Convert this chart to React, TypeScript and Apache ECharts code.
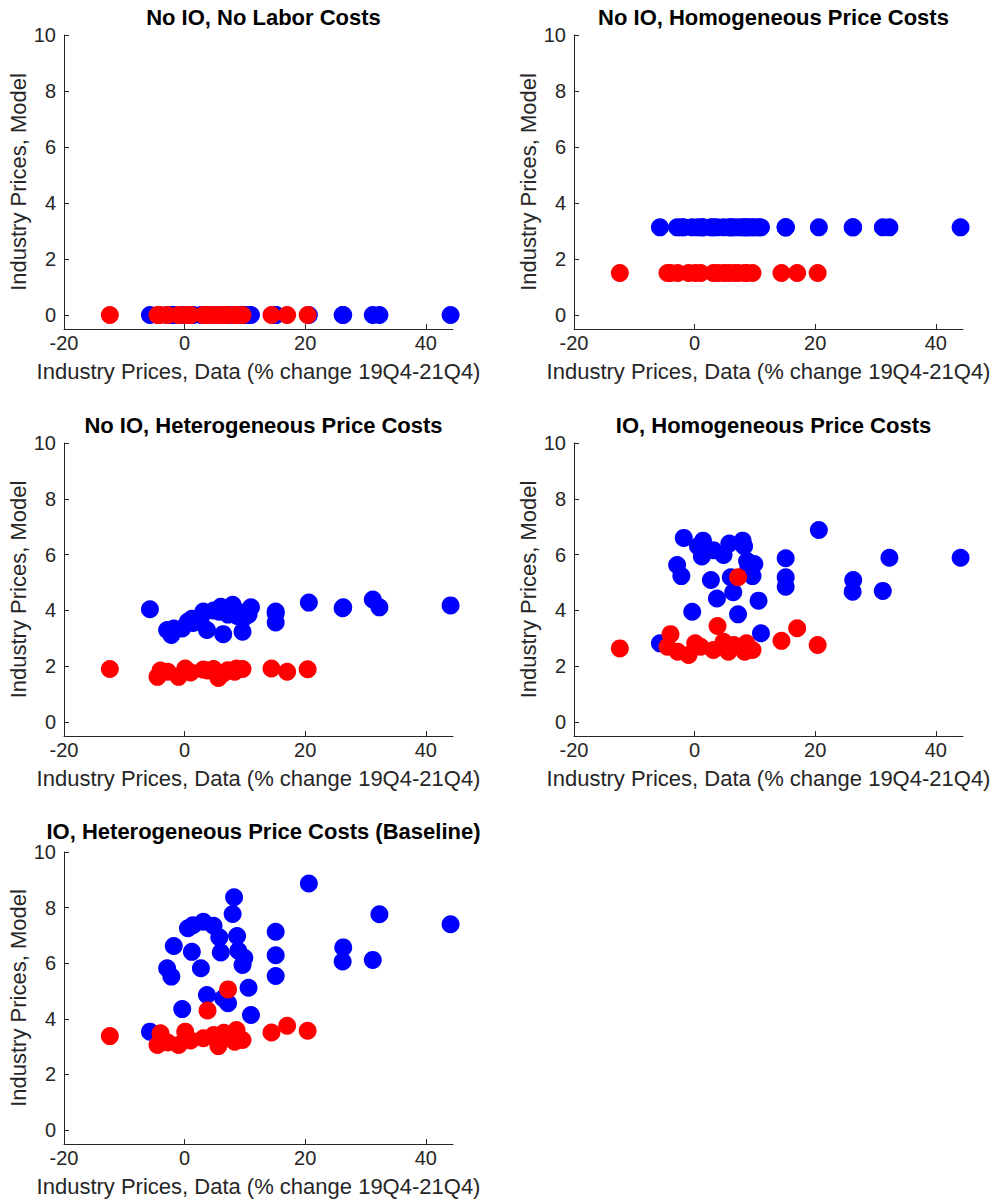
import React, { useEffect, useRef } from "react";
import * as echarts from "echarts";

// Industry price changes, data (% change 19Q4-21Q4)
const blueX = [
  -5.75, -2.9, -2.2, -1.8, -0.4, 0.55, 1.2, 1.4, 2.7, 3.1, 3.7, 4.8, 5.75, 6.0, 6.4, 7.2, 7.96,
  8.2, 8.7, 8.9, 9.6, 9.9, 10.6, 11.0, 15.1, 15.1, 15.1, 20.6, 26.3, 26.2, 31.2, 32.3, 44.1,
];
const redX = [
  -12.4, -4.5, -4.0, -2.8, -1.0, 0.1, 1.0, 3.1, 3.8, 4.8, 5.6, 6.5, 7.2, 8.3, 8.6, 9.6, 14.4, 17.0,
  20.4,
];

// Model industry prices, one array per specification
const blueNoIoNoLabor = [
  0, 0, 0, 0, 0, 0, 0, 0, 0, 0, 0, 0, 0, 0, 0, 0, 0, 0, 0, 0, 0, 0, 0, 0, 0, 0, 0, 0, 0, 0, 0, 0, 0,
];
const redNoIoNoLabor = [0, 0, 0, 0, 0, 0, 0, 0, 0, 0, 0, 0, 0, 0, 0, 0, 0, 0, 0];

const blueNoIoHomog = [
  3.13, 3.13, 3.13, 3.13, 3.13, 3.13, 3.13, 3.13, 3.13, 3.13, 3.13, 3.13, 3.13, 3.13, 3.13, 3.13,
  3.13, 3.13, 3.13, 3.13, 3.13, 3.13, 3.13, 3.13, 3.13, 3.13, 3.13, 3.13, 3.13, 3.13, 3.13, 3.13,
  3.13,
];
const redNoIoHomog = [
  1.5, 1.5, 1.5, 1.5, 1.5, 1.5, 1.5, 1.5, 1.5, 1.5, 1.5, 1.5, 1.5, 1.5, 1.5, 1.5, 1.5, 1.5, 1.5,
];

const blueNoIoHetero = [
  4.04, 3.3, 3.12, 3.35, 3.35, 3.6, 3.7, 3.55, 3.75, 3.96, 3.3, 4.0, 3.95, 4.13, 3.15, 3.85, 4.2,
  3.9, 3.8, 3.95, 3.24, 3.75, 3.85, 4.11, 3.96, 3.57, 3.9, 4.28, 4.11, 4.08, 4.39, 4.11, 4.18,
];
const redNoIoHetero = [
  1.9, 1.62, 1.85, 1.8, 1.62, 1.92, 1.78, 1.88, 1.85, 1.9, 1.58, 1.75, 1.86, 1.8, 1.92, 1.9, 1.92,
  1.8, 1.89,
];

const blueIoHomog = [
  2.82, 5.63, 5.23, 6.6, 3.95, 6.3, 5.93, 6.5, 5.09, 6.16, 4.43, 5.99, 6.4, 5.19, 4.65, 3.86, 6.5,
  6.3, 5.77, 5.5, 5.23, 5.66, 4.35, 3.18, 5.87, 5.19, 4.85, 6.88, 5.09, 4.67, 4.7, 5.89, 5.89,
];
const redIoHomog = [
  2.64, 2.7, 3.15, 2.52, 2.4, 2.82, 2.7, 2.58, 3.44, 2.88, 2.52, 2.76, 5.19, 2.52, 2.82, 2.58, 2.91,
  3.36, 2.76,
];

const blueIoHetero = [
  3.54, 5.82, 5.52, 6.62, 4.35, 7.26, 6.41, 7.37, 5.82, 7.49, 4.86, 7.35, 6.93, 6.39, 4.74, 4.56,
  7.77, 8.37, 6.98, 6.45, 5.94, 6.2, 5.12, 4.14, 7.13, 6.29, 5.54, 8.87, 6.57, 6.06, 6.12, 7.76,
  7.4,
];
const redIoHetero = [
  3.38, 3.06, 3.48, 3.15, 3.06, 3.54, 3.22, 3.3, 4.3, 3.42, 3.02, 3.5, 5.06, 3.18, 3.6, 3.24, 3.51,
  3.75, 3.57,
];

const panelTitles = [
  "No IO, No Labor Costs",
  "No IO, Homogeneous Price Costs",
  "No IO, Heterogeneous Price Costs",
  "IO, Homogeneous Price Costs",
  "IO, Heterogeneous Price Costs (Baseline)",
];
const panelBlue = [blueNoIoNoLabor, blueNoIoHomog, blueNoIoHetero, blueIoHomog, blueIoHetero];
const panelRed = [redNoIoNoLabor, redNoIoHomog, redNoIoHetero, redIoHomog, redIoHetero];

const xTicks = [-20, 0, 20, 40];
const yTicks = [0, 2, 4, 6, 8, 10];
const xLabel = "Industry Prices, Data (% change 19Q4-21Q4)";
const yLabel = "Industry Prices, Model";

// Panel frames in page pixels; titleLift raises a title whose text runs past the frame
const panelBoxes = [
  { left: 64, top: 35, width: 389, height: 294, titleLift: 34 },
  { left: 574, top: 35, width: 389, height: 294, titleLift: 34 },
  { left: 64, top: 443, width: 389, height: 293, titleLift: 34 },
  { left: 574, top: 443, width: 389, height: 293, titleLift: 34 },
  { left: 64, top: 852, width: 389, height: 292, titleLift: 37 },
];

const AXIS_COLOR = "#262626";
const FONT = "'Liberation Sans', Arial, Helvetica, sans-serif";

function zip(xs: number[], ys: number[]): number[][] {
  return xs.map((x, i) => [x, ys[i]]);
}

export default function App() {
  const ref = useRef<HTMLDivElement>(null);

  useEffect(() => {
    if (!ref.current) return;
    const chart = echarts.init(ref.current, undefined, { renderer: "svg" });

    const grid = panelBoxes.map((b) => ({
      left: b.left,
      top: b.top,
      width: b.width,
      height: b.height,
      containLabel: false,
    }));

    const title = panelBoxes.map((b, i) => ({
      text: panelTitles[i],
      left: b.left + b.width / 2,
      top: b.top - b.titleLift,
      textAlign: "center",
      textStyle: { fontFamily: FONT, fontSize: 22, fontWeight: "bold", color: "#000" },
    }));

    const xAxis = panelBoxes.map((_, i) => ({
      type: "value",
      gridIndex: i,
      min: -20,
      max: 44.5,
      name: xLabel,
      nameLocation: "middle",
      nameGap: 31,
      nameTextStyle: { fontFamily: FONT, fontSize: 22, color: AXIS_COLOR },
      axisLine: { show: true, onZero: false, lineStyle: { color: AXIS_COLOR, width: 1 } },
      axisTick: {
        show: true,
        inside: true,
        length: 5,
        customValues: xTicks,
        lineStyle: { color: AXIS_COLOR },
      },
      axisLabel: {
        customValues: xTicks,
        fontFamily: FONT,
        fontSize: 20,
        color: AXIS_COLOR,
        margin: 4,
      },
      splitLine: { show: false },
    }));

    const yAxis = panelBoxes.map((_, i) => ({
      type: "value",
      gridIndex: i,
      min: -0.5,
      max: 10,
      name: yLabel,
      nameLocation: "middle",
      nameGap: 29,
      nameTextStyle: { fontFamily: FONT, fontSize: 22, color: AXIS_COLOR },
      axisLine: { show: true, onZero: false, lineStyle: { color: AXIS_COLOR, width: 1 } },
      axisTick: {
        show: true,
        inside: true,
        length: 5,
        customValues: yTicks,
        lineStyle: { color: AXIS_COLOR },
      },
      axisLabel: {
        customValues: yTicks,
        fontFamily: FONT,
        fontSize: 20,
        color: AXIS_COLOR,
        margin: 8,
      },
      splitLine: { show: false },
    }));

    const series: any[] = [];
    panelBoxes.forEach((_, i) => {
      series.push({
        type: "scatter",
        xAxisIndex: i,
        yAxisIndex: i,
        symbol: "circle",
        symbolSize: 18,
        clip: false,
        itemStyle: { color: "#0000ff", opacity: 1 },
        data: zip(blueX, panelBlue[i]),
      });
      series.push({
        type: "scatter",
        xAxisIndex: i,
        yAxisIndex: i,
        symbol: "circle",
        symbolSize: 18,
        clip: false,
        itemStyle: { color: "#ff0000", opacity: 1 },
        data: zip(redX, panelRed[i]),
      });
    });

    chart.setOption({
      animation: false,
      backgroundColor: "#ffffff",
      title,
      grid,
      xAxis,
      yAxis,
      series,
    });

    return () => chart.dispose();
  }, []);

  return (
    <div
      ref={ref}
      style={{ position: "absolute", left: 0, top: 0, width: 999, height: 1199, background: "#fff" }}
    />
  );
}
